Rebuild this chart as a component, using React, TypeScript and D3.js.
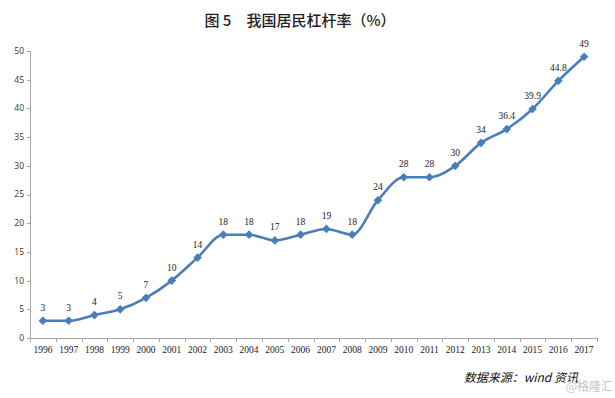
import { useEffect, useRef } from "react";
import * as d3 from "d3";

const years = [
  "1996", "1997", "1998", "1999", "2000", "2001", "2002", "2003", "2004", "2005", "2006",
  "2007", "2008", "2009", "2010", "2011", "2012", "2013", "2014", "2015", "2016", "2017",
];
const leverage = [3, 3, 4, 5, 7, 10, 14, 18, 18, 17, 18, 19, 18, 24, 28, 28, 30, 34, 36.4, 39.9, 44.8, 49];
const yTicks = [0, 5, 10, 15, 20, 25, 30, 35, 40, 45, 50];

const W = 615;
const H = 398;

export default function App() {
  const svgRef = useRef<SVGSVGElement>(null);

  useEffect(() => {
    const svg = d3.select(svgRef.current!);
    svg.selectAll("*").remove();

    const left = 30;
    const right = 597;
    const top = 51;
    const bottom = 338;

    const x = d3.scaleBand<string>().domain(years).range([left, right]);
    const y = d3.scaleLinear().domain([0, 50]).range([bottom, top]);
    const cx = (d: string) => x(d)! + x.bandwidth() / 2;
    const axisColor = "#a6a6a6";

    // title
    svg
      .append("text")
      .attr("x", 300)
      .attr("y", 26)
      .attr("text-anchor", "middle")
      .attr("font-family", "'Noto Sans CJK SC', sans-serif")
      .attr("font-size", 15)
      .attr("font-weight", 500)
      .attr("fill", "#222")
      .text("图 5　我国居民杠杆率（%）");

    // y axis
    const ya = svg.append("g");
    ya.append("line")
      .attr("x1", left + 0.5)
      .attr("x2", left + 0.5)
      .attr("y1", top)
      .attr("y2", bottom)
      .attr("stroke", axisColor);
    yTicks.forEach((t) => {
      ya.append("line")
        .attr("x1", left - 3)
        .attr("x2", left)
        .attr("y1", Math.round(y(t)) + 0.5)
        .attr("y2", Math.round(y(t)) + 0.5)
        .attr("stroke", axisColor);
      ya.append("text")
        .attr("x", left - 6)
        .attr("y", y(t))
        .attr("dy", "0.35em")
        .attr("text-anchor", "end")
        .attr("font-family", "'Open Sans', sans-serif")
        .attr("font-size", 8.5)
        .attr("fill", "#333")
        .text(t);
    });

    // x axis
    const xa = svg.append("g");
    xa.append("line")
      .attr("x1", left)
      .attr("x2", right)
      .attr("y1", bottom + 0.5)
      .attr("y2", bottom + 0.5)
      .attr("stroke", axisColor);
    [...years.map((d) => x(d)!), right].forEach((px) => {
      xa.append("line")
        .attr("x1", Math.round(px) + 0.5)
        .attr("x2", Math.round(px) + 0.5)
        .attr("y1", bottom)
        .attr("y2", bottom + 4)
        .attr("stroke", axisColor);
    });
    years.forEach((d) => {
      xa.append("text")
        .attr("x", cx(d))
        .attr("y", bottom + 15)
        .attr("text-anchor", "middle")
        .attr("font-family", "'Liberation Serif', serif")
        .attr("font-size", 9.5)
        .attr("fill", "#222")
        .text(d);
    });

    // series line
    const line = d3
      .line<number>()
      .x((_, i) => cx(years[i]))
      .y((v) => y(v))
      .curve(d3.curveMonotoneX);
    svg
      .append("path")
      .attr("d", line(leverage)!)
      .attr("fill", "none")
      .attr("stroke", "#4a7ebb")
      .attr("stroke-width", 2.6);

    // diamond markers
    const diamond = d3.symbol().type(d3.symbolDiamond2).size(48);
    svg
      .selectAll(".pt")
      .data(leverage)
      .join("path")
      .attr("class", "pt")
      .attr("d", diamond()!)
      .attr("transform", (v, i) => `translate(${cx(years[i])},${y(v)})`)
      .attr("fill", "#4a7ebb");

    // data labels
    svg
      .selectAll(".lbl")
      .data(leverage)
      .join("text")
      .attr("class", "lbl")
      .attr("x", (_, i) => cx(years[i]))
      .attr("y", (v) => y(v) - 10)
      .attr("text-anchor", "middle")
      .attr("font-family", "'Liberation Serif', serif")
      .attr("font-size", 9.5)
      .attr("fill", "#222")
      .text((v) => String(v));

    // source
    svg
      .append("text")
      .attr("x", 578)
      .attr("y", 382)
      .attr("text-anchor", "end")
      .attr("font-family", "'Noto Sans CJK SC', sans-serif")
      .attr("font-style", "italic")
      .attr("font-size", 12)
      .attr("fill", "#111")
      .text("数据来源：wind 资讯");

    // watermark
    svg
      .append("text")
      .attr("x", 613)
      .attr("y", 391)
      .attr("text-anchor", "end")
      .attr("font-family", "'Noto Sans CJK SC', sans-serif")
      .attr("font-size", 12)
      .attr("fill", "#bdbdbd")
      .attr("opacity", 0.85)
      .text("@格隆汇");
  }, []);

  return (
    <svg
      ref={svgRef}
      width={W}
      height={H}
      style={{ position: "absolute", left: 0, top: 0, background: "#fff" }}
    />
  );
}
